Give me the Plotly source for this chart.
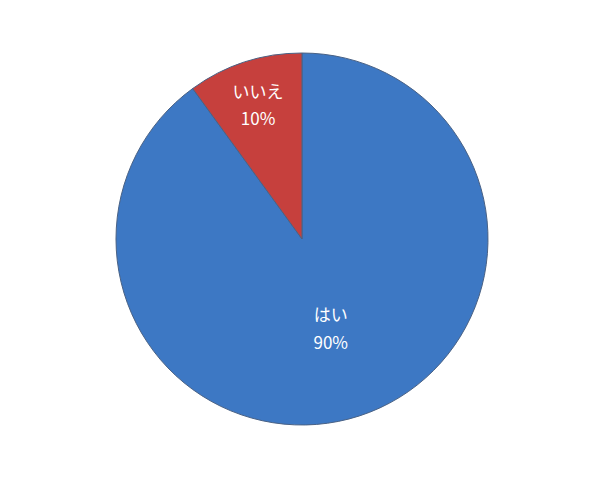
import plotly.graph_objects as go

labels = ["はい", "いいえ"]
values = [90, 10]
colors = ["#3d78c4", "#c6403d"]

fig = go.Figure()
fig.add_trace(
    go.Pie(
        labels=labels,
        values=values,
        sort=False,
        direction="clockwise",
        rotation=0,
        marker=dict(colors=colors, line=dict(color="#4a6285", width=1)),
        # larger base size widens the gap between the two lines
        texttemplate="<span style='font-size:17px'>%{label}</span><br>"
                     "<span style='font-size:17px'>%{percent:.0%}</span>",
        textposition="inside",
        insidetextorientation="horizontal",
        textfont=dict(family="Noto Sans CJK JP", size=21, color="white"),
        hoverinfo="label+percent",
        showlegend=False,
    )
)

fig.update_layout(
    width=602,
    height=477,
    margin=dict(l=108, r=122, t=45, b=60),
    paper_bgcolor="white",
    plot_bgcolor="white",
)

fig.write_html("out.html")
